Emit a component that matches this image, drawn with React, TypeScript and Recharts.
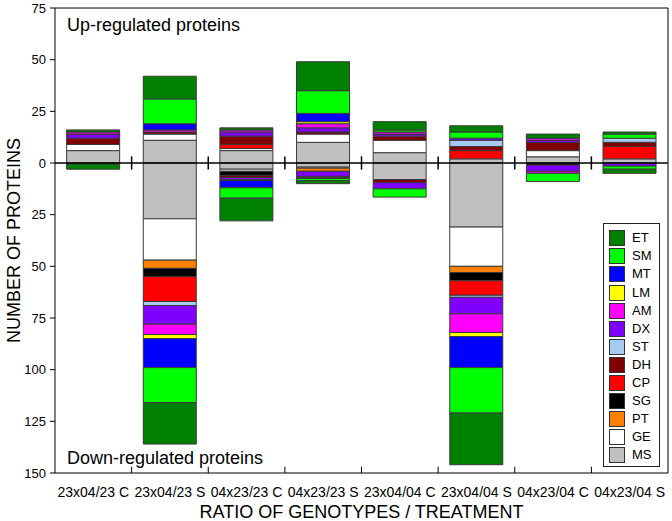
import React from 'react';
import { BarChart, Bar, XAxis, YAxis, ReferenceLine } from 'recharts';

const FONT = '"Liberation Sans", Arial, Helvetica, sans-serif';

const CATEGORIES = [
  '23x04/23 C', '23x04/23 S', '04x23/23 C', '04x23/23 S',
  '23x04/04 C', '23x04/04 S', '04x23/04 C', '04x23/04 S',
];
const Y_TICKS = [-150, -125, -100, -75, -50, -25, 0, 25, 50, 75];
const BOUNDARIES = [1, 2, 3, 4, 5, 6, 7];

// Up-regulated counts per functional class (one value per category)
const UP_MS = [6, 11, 6, 10, 5, 2, 3, 2];
const UP_GE = [3, 3, 1, 4, 6, 0, 3, 0];
const UP_PT = [0, 0, 0, 0, 0, 0, 0, 0];
const UP_SG = [0, 0, 0, 0, 0, 0, 0, 0];
const UP_CP = [0, 0, 2, 0, 0, 4, 0, 6];
const UP_DH = [3, 1, 4, 1, 2, 2, 4, 2];
const UP_ST = [0, 0, 0, 0, 0, 3, 0, 2];
const UP_DX = [2, 0, 2, 2, 1, 1, 1, 0];
const UP_AM = [1, 1, 1, 2, 1, 0, 1, 0];
const UP_LM = [0, 0, 0, 1, 0, 0, 0, 0];
const UP_MT = [0, 3, 0, 4, 0, 0, 0, 0];
const UP_SM = [0, 12, 0, 11, 1, 3, 0, 2];
const UP_ET = [1, 11, 1, 14, 4, 3, 2, 1];

// Down-regulated counts per functional class (drawn below zero)
const DOWN_MS = [0, 27, 3, 2, 8, 31, 0, 0];
const DOWN_GE = [0, 20, 1, 0.5, 0, 19, 0, 0];
const DOWN_PT = [0, 4, 0, 1.5, 0, 3, 0, 0];
const DOWN_SG = [0, 4, 2, 0, 0, 4, 1, 0];
const DOWN_CP = [0, 12, 0, 0, 0, 7, 0, 0];
const DOWN_DH = [0.5, 0, 1, 0, 1.5, 0, 0, 0];
const DOWN_ST = [0, 2, 0, 0, 0, 1, 0, 0];
const DOWN_DX = [0, 9, 1, 2.5, 3, 8, 3, 1.5];
const DOWN_AM = [0, 5, 0.5, 0.5, 0, 9, 1, 0];
const DOWN_LM = [0, 2, 0, 0.5, 0, 2, 0, 0];
const DOWN_MT = [0, 14, 3.5, 0, 0, 15, 0, 0];
const DOWN_SM = [0, 17, 5, 1, 4, 22, 4, 1.5];
const DOWN_ET = [2.5, 20, 11, 1.5, 0, 25, 0, 2];

// stacking order from zero outwards
const SERIES = [
  { key: 'MS', color: '#C0C0C0', up: UP_MS, down: DOWN_MS },
  { key: 'GE', color: '#FFFFFF', up: UP_GE, down: DOWN_GE },
  { key: 'PT', color: '#FF8000', up: UP_PT, down: DOWN_PT },
  { key: 'SG', color: '#000000', up: UP_SG, down: DOWN_SG },
  { key: 'CP', color: '#FF0000', up: UP_CP, down: DOWN_CP },
  { key: 'DH', color: '#800000', up: UP_DH, down: DOWN_DH },
  { key: 'ST', color: '#A6CAF0', up: UP_ST, down: DOWN_ST },
  { key: 'DX', color: '#8000FF', up: UP_DX, down: DOWN_DX },
  { key: 'AM', color: '#FF00FF', up: UP_AM, down: DOWN_AM },
  { key: 'LM', color: '#FFFF00', up: UP_LM, down: DOWN_LM },
  { key: 'MT', color: '#0000FF', up: UP_MT, down: DOWN_MT },
  { key: 'SM', color: '#00FF00', up: UP_SM, down: DOWN_SM },
  { key: 'ET', color: '#008000', up: UP_ET, down: DOWN_ET },
];

const data = CATEGORIES.map((name, i) => {
  const row: Record<string, any> = { name, pos: i + 0.5 };
  SERIES.forEach((s) => {
    row[s.key + '_up'] = s.up[i];
    row[s.key + '_dn'] = -s.down[i];
  });
  return row;
});

const XTick = (props: any) => {
  const { x, y, payload } = props;
  return (
    <text x={x} y={y + 24} textAnchor="middle" fontSize={14} fontFamily={FONT} fill="#000">
      {payload.value}
    </text>
  );
};

const YTitle = (props: any) => {
  const vb = props.viewBox || {};
  const cx = 14;
  const cy = (vb.y ?? 8) + (vb.height ?? 465) / 2;
  return (
    <text
      x={cx}
      y={cy}
      transform={`rotate(-90, ${cx}, ${cy})`}
      textAnchor="middle"
      dominantBaseline="central"
      fontSize={18}
      fontFamily={FONT}
      fill="#000"
    >
      NUMBER OF PROTEINS
    </text>
  );
};

const LEGEND_ITEMS = [...SERIES].reverse();

export default function App() {
  return (
    <div style={{ position: 'absolute', left: 0, top: 0, width: 672, height: 521, background: '#fff' }}>
      <BarChart
        width={672}
        height={521}
        data={data}
        stackOffset="sign"
        barCategoryGap="15.2%"
        margin={{ top: 8, right: 4, bottom: 0, left: 0 }}
      >
        <XAxis
          dataKey="name"
          interval={0}
          tickLine={false}
          tickSize={0}
          tickMargin={0}
          height={48}
          axisLine={{ stroke: '#000', strokeWidth: 1 }}
          tick={<XTick />}
          label={{
            value: 'RATIO OF GENOTYPES / TREATMENT',
            position: 'insideBottom',
            offset: 3,
            fontSize: 18,
            fontFamily: FONT,
            fill: '#000',
          }}
        />
        <XAxis
          xAxisId="grid"
          dataKey="pos"
          type="number"
          domain={[0, 8]}
          allowDataOverflow
          ticks={[0, 1, 2, 3, 4, 5, 6, 7, 8]}
          hide
        />
        <YAxis
          domain={[-150, 75]}
          ticks={Y_TICKS}
          interval={0}
          allowDataOverflow
          width={55}
          tickSize={5}
          tickMargin={4}
          tickFormatter={(v: number) => String(Math.abs(v))}
          axisLine={{ stroke: '#000', strokeWidth: 1 }}
          tickLine={{ stroke: '#000', strokeWidth: 1 }}
          tick={{ fill: '#000', fontSize: 13, fontFamily: FONT }}
          label={<YTitle />}
        />
        {SERIES.flatMap((s) => [
          <Bar
            key={s.key + '_up'}
            dataKey={s.key + '_up'}
            stackId="a"
            fill={s.color}
            stroke="#3a3a3a"
            strokeWidth={1}
            isAnimationActive={false}
          />,
          <Bar
            key={s.key + '_dn'}
            dataKey={s.key + '_dn'}
            stackId="a"
            fill={s.color}
            stroke="#3a3a3a"
            strokeWidth={1}
            isAnimationActive={false}
          />,
        ])}
        <ReferenceLine y={0} stroke="#000" strokeWidth={1.5} />
        <ReferenceLine y={75} stroke="#000" strokeWidth={1} />
        <ReferenceLine xAxisId="grid" x={8} stroke="#000" strokeWidth={1} ifOverflow="visible" />
        {BOUNDARIES.map((b) => (
          <ReferenceLine
            key={'z' + b}
            xAxisId="grid"
            segment={[{ x: b, y: -3.2 }, { x: b, y: 3.2 }]}
            stroke="#000"
            strokeWidth={1.5}
          />
        ))}
        {BOUNDARIES.map((b) => (
          <ReferenceLine
            key={'b' + b}
            xAxisId="grid"
            segment={[{ x: b, y: -150 }, { x: b, y: -147 }]}
            stroke="#000"
            strokeWidth={1}
          />
        ))}
        <text x={67} y={31} fontSize={18} fontFamily={FONT} fill="#000">
          Up-regulated proteins
        </text>
        <text x={67} y={464} fontSize={18} fontFamily={FONT} fill="#000">
          Down-regulated proteins
        </text>
      </BarChart>
      <div
        style={{
          position: 'absolute',
          left: 603,
          top: 223,
          width: 57,
          height: 244,
          boxSizing: 'border-box',
          border: '1px solid #222',
          background: '#fff',
          fontFamily: FONT,
        }}
      >
        {LEGEND_ITEMS.map((s, i) => {
          const cy = 14.3 + 18.07 * i;
          return (
            <div key={s.key} style={{ position: 'absolute', left: 0, top: cy - 9, height: 18, width: 55 }}>
              <div
                style={{
                  position: 'absolute',
                  left: 5,
                  top: 1,
                  width: 16,
                  height: 16,
                  boxSizing: 'border-box',
                  border: '1px solid #333',
                  background: s.color,
                }}
              />
              <div
                style={{
                  position: 'absolute',
                  left: 28,
                  top: 0,
                  lineHeight: '18px',
                  fontSize: 13,
                  color: '#000',
                }}
              >
                {s.key}
              </div>
            </div>
          );
        })}
      </div>
    </div>
  );
}
